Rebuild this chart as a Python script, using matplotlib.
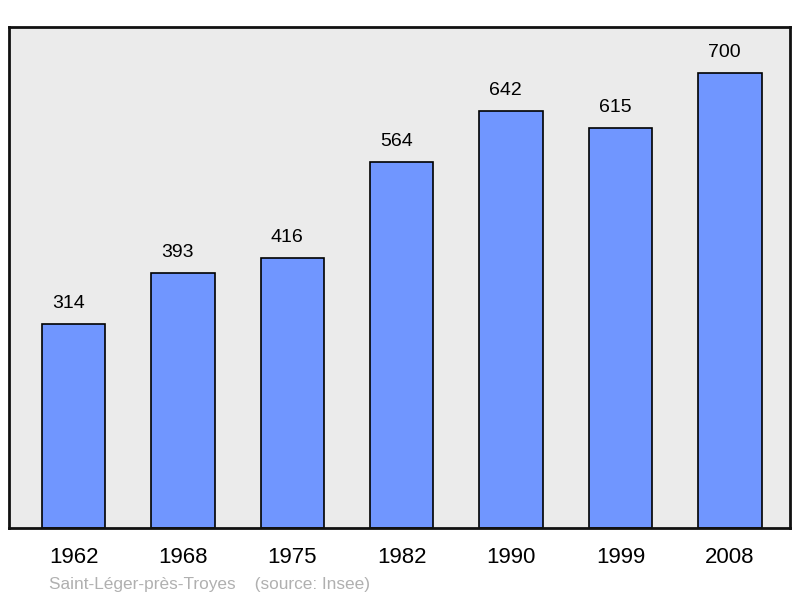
import matplotlib
matplotlib.use("Agg")
import matplotlib.pyplot as plt

years = ["1962", "1968", "1975", "1982", "1990", "1999", "2008"]
population = [314, 393, 416, 564, 642, 615, 700]
caption = "Saint-Léger-près-Troyes    (source: Insee)"

plt.rcParams['font.family'] = ['Liberation Sans', 'DejaVu Sans']

fig = plt.figure(figsize=(8, 5.98), dpi=100)
ax = fig.add_axes([9/800, 1-528/598, (790-9)/800, (528-27)/598])
ax.set_facecolor('#ebebeb')
x = list(range(len(years)))
ax.bar(x, population, width=0.58, color='#7096ff', edgecolor='black', linewidth=1.2, zorder=2)
for xi, v in zip(x, population):
    ax.annotate(str(v), (xi, v), xytext=(-3.8, 11.5), textcoords='offset points',
                ha='center', va='baseline', fontsize=14)
ax.set_xlim(-0.59, 6.55)
ax.set_ylim(0, 771)
ax.set_yticks([])
ax.set_xticks(x)
ax.set_xticklabels(years, fontsize=16)
ax.tick_params(axis='x', length=0, pad=14)
for s in ax.spines.values():
    s.set_linewidth(2)
    s.set_color('#111111')
fig.text(49/800, 1-589/598, caption, fontsize=12.4, color='#b0b0b0', va='baseline', ha='left')
fig.savefig('out.png', dpi=100)
